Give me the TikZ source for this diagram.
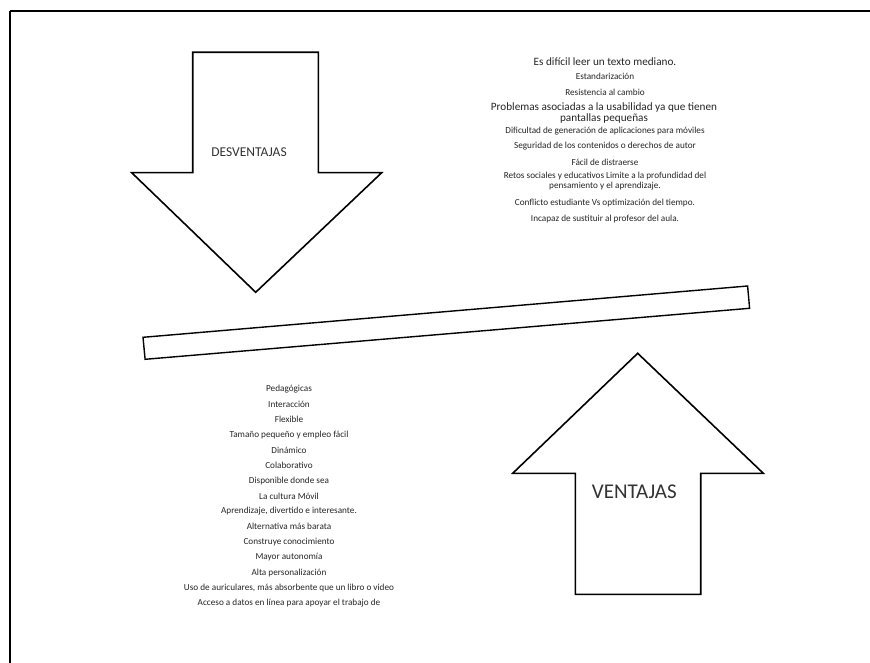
\documentclass[tikz,border=0pt]{standalone}
\usepackage{fontspec}
\setmainfont{Carlito}
\begin{document}
\begin{tikzpicture}[x=1pt,y=-1pt,
  shape line/.style={draw=black,line width=1.6pt,line join=miter,fill=white},
  item/.style={inner sep=0pt,anchor=center,text=black!85,font=\fontsize{9.2}{10}\selectfont},
  bigitem/.style={item,font=\fontsize{11.2}{11.2}\selectfont,align=center},
  label/.style={inner sep=0pt,text=black!80}]
\useasboundingbox (0,0) rectangle (870,663);
\fill[white] (0,0) rectangle (870,663);
% outer frame, running off the right and bottom edges
\draw[line width=2pt] (10,11) -- (10,680) (10,11) -- (880,11);

% down arrow
\draw[shape line] (192.7,52.3) -- (318.3,52.3) -- (318.3,172.7) -- (381.7,172.7)
  -- (255.7,292.3) -- (131.7,172.7) -- (192.7,172.7) -- cycle;
\node[label,font=\fontsize{13.5}{14}\selectfont] (des) at (249,152.5) {DESVENTAJAS};

% up arrow
\draw[shape line] (637.7,353.3) -- (763.3,473.3) -- (700.7,473.3) -- (700.7,594.3)
  -- (575.3,594.3) -- (575.3,473.3) -- (512.7,473.3) -- cycle;
\node[label,font=\fontsize{21}{22}\selectfont] (ven) at (634.3,491.7) {VENTAJAS};

% tilted bar between the arrows
\draw[shape line,line width=1.4pt] (143,337.3) -- (145.1,359.3) -- (749.6,308.3) -- (747.6,286) -- cycle;

% disadvantages
\node[bigitem] (d1) at (605,62) {Es difícil leer un texto mediano.};
\node[item] (d2) at (605,76) {Estandarización};
\node[item] (d3) at (605,92) {Resistencia al cambio};
\node[bigitem] (d4) at (604,113) {Problemas asociadas a la usabilidad ya que tienen\\[-0.6pt] pantallas pequeñas};
\node[item] (d5) at (605,131) {Dificultad de generación de aplicaciones para móviles};
\node[item] (d6) at (605,146) {Seguridad de los contenidos  o derechos de autor};
\node[item] (d7) at (605,162) {Fácil de distraerse};
\node[item,align=center] (d8) at (605,181) {Retos sociales y educativos Limite a la profundidad  del\\[-0.5pt] pensamiento y el aprendizaje.};
\node[item] (d9) at (605,203) {Conflicto estudiante Vs optimización del tiempo.};
\node[item] (d10) at (605,219) {Incapaz de sustituir al profesor  del aula.};

% advantages
\foreach \t [count=\i] in {Pedagógicas,Interacción,Flexible,Tamaño pequeño y  empleo fácil,
  Dinámico,Colaborativo,Disponible donde  sea,La cultura Móvil,
  {Aprendizaje, divertido  e interesante.},Alternativa más barata,Construye conocimiento,
  Mayor autonomía,Alta personalización,
  {Uso de auriculares, más absorbente que un libro o video},
  Acceso a datos en línea para apoyar el trabajo de}
  \node[item] (v\i) at (289,{389+15.3*(\i-1)}) {\t};
\end{tikzpicture}
\end{document}
